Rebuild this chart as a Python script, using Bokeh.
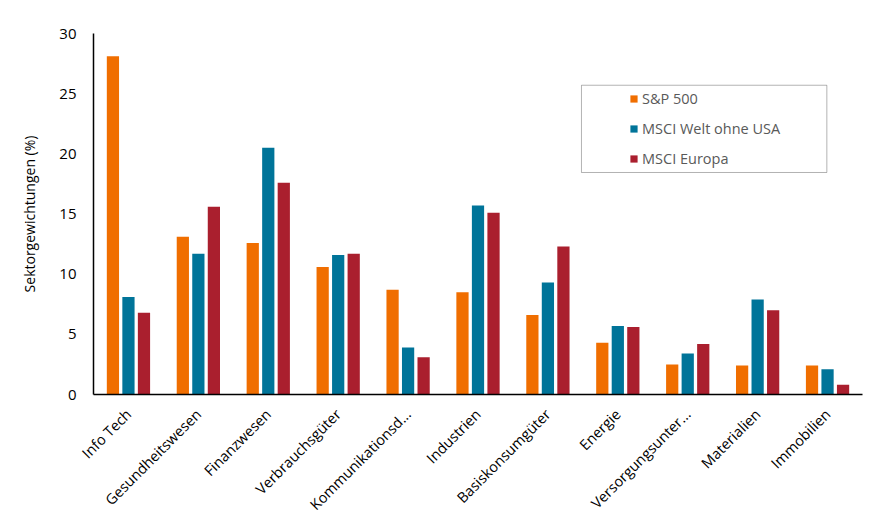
import math
from bokeh.plotting import figure
from bokeh.models import ColumnDataSource, FactorRange, Range1d, Legend, LegendItem, BoxAnnotation, FixedTicker
from bokeh.transform import dodge
from bokeh.embed import file_html
from bokeh.resources import INLINE

categories = ["Info Tech", "Gesundheitswesen", "Finanzwesen", "Verbrauchsgüter",
              "Kommunikationsd...", "Industrien", "Basiskonsumgüter", "Energie",
              "Versorgungsunter...", "Materialien", "Immobilien"]
sp500 = [28.1, 13.1, 12.6, 10.6, 8.7, 8.5, 6.6, 4.3, 2.5, 2.4, 2.4]
msci_welt = [8.1, 11.7, 20.5, 11.6, 3.9, 15.7, 9.3, 5.7, 3.4, 7.9, 2.1]
msci_europa = [6.8, 15.6, 17.6, 11.7, 3.1, 15.1, 12.3, 5.6, 4.2, 7.0, 0.8]
series_names = ["S&P 500", "MSCI Welt ohne USA", "MSCI Europa"]
y_ticks = [0, 5, 10, 15, 20, 25, 30]

colors = ["#F06E00", "#007499", "#AA1F2E"]
FONT = "Open Sans"

source = ColumnDataSource(data=dict(cat=categories, sp=sp500, welt=msci_welt, eu=msci_europa))

p = figure(x_range=FactorRange(factors=categories, range_padding=0), y_range=Range1d(0, 30),
           width=870, height=526, output_backend="svg", toolbar_location=None,
           min_border_left=93, min_border_right=8, min_border_top=33, min_border_bottom=132)
p.x_range.range_padding = 0

r1 = p.vbar(x=dodge("cat", -0.222, range=p.x_range), top="sp", width=0.175, source=source,
            color=colors[0], line_color=None)
r2 = p.vbar(x=dodge("cat", 0.0, range=p.x_range), top="welt", width=0.175, source=source,
            color=colors[1], line_color=None)
r3 = p.vbar(x=dodge("cat", 0.222, range=p.x_range), top="eu", width=0.175, source=source,
            color=colors[2], line_color=None)

p.xgrid.visible = False
p.ygrid.visible = False
p.outline_line_color = None

p.yaxis.ticker = FixedTicker(ticks=y_ticks)
p.yaxis.axis_label = "Sektorgewichtungen (%)"
p.yaxis.axis_label_text_font = FONT
p.yaxis.axis_label_text_font_style = "normal"
p.yaxis.axis_label_text_font_size = "14px"
p.yaxis.axis_label_text_color = "#000000"
p.yaxis.axis_label_standoff = 17

for ax in (p.xaxis, p.yaxis):
    ax.major_tick_line_color = None
    ax.minor_tick_line_color = None
    ax.axis_line_color = "#000000"
    ax.axis_line_width = 1.5
    ax.major_label_text_font = FONT
    ax.major_label_text_font_size = "15px"
    ax.major_label_text_color = "#000000"

p.yaxis.major_label_standoff = 11
p.xaxis.major_label_orientation = math.pi / 4
p.xaxis.major_label_standoff = 11
p.xaxis.major_label_text_font_size = "14.5px"

box = BoxAnnotation(left=6.98, right=10.49, bottom=18.45, top=25.7,
                    fill_color="#FFFFFF", fill_alpha=1.0, line_color="#000000", line_width=1, level="overlay")
p.add_layout(box)

legend = Legend(items=[LegendItem(label=series_names[0], renderers=[r1]),
                       LegendItem(label=series_names[1], renderers=[r2]),
                       LegendItem(label=series_names[2], renderers=[r3])],
                location=(536, 226), padding=0, spacing=10, margin=0,
                glyph_width=9, glyph_height=9, label_height=20, label_standoff=4,
                label_text_font=FONT, label_text_font_size="14.5px", label_text_color="#595959",
                border_line_color=None, background_fill_alpha=0)
p.add_layout(legend, "center")

open("out.html", "w").write(file_html(p, INLINE))
